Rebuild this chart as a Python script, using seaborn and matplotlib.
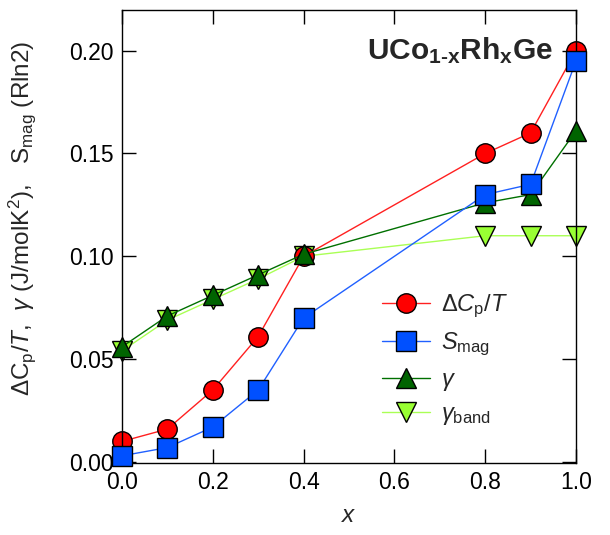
import matplotlib
matplotlib.use("Agg")
import matplotlib.pyplot as plt
import seaborn as sns
import pandas as pd

x = [0.0, 0.1, 0.2, 0.3, 0.4, 0.8, 0.9, 1.0]
dcp_t = [0.010, 0.016, 0.035, 0.061, 0.100, 0.150, 0.160, 0.200]
s_mag = [0.003, 0.007, 0.017, 0.035, 0.070, 0.130, 0.135, 0.195]
gamma = [0.056, 0.071, 0.081, 0.091, 0.101, 0.126, 0.130, 0.161]
gamma_band = [0.054, 0.069, 0.079, 0.089, 0.100, 0.110, 0.110, 0.110]

sns.set_theme(style="ticks")
plt.rcParams['font.family'] = ['Liberation Sans', 'DejaVu Sans']
plt.rcParams['mathtext.fontset'] = 'custom'
plt.rcParams['mathtext.rm'] = 'Liberation Sans'
plt.rcParams['mathtext.it'] = 'Liberation Sans:italic'
plt.rcParams['mathtext.bf'] = 'Liberation Sans:bold'

fig = plt.figure(figsize=(6.1, 5.35), dpi=100)
ax = fig.add_axes([122/610, 1-463/535, (576-122)/610, (463-9.5)/535])

df = pd.DataFrame({'x': x, 'dcp': dcp_t, 'smag': s_mag, 'g': gamma, 'gb': gamma_band})

series = [
    ('gb', r'$\mathit{\gamma}_\mathrm{band}$', 'v', '#aaff55', '#99ff33', 1),
    ('dcp', r'$\mathit{\Delta C}_\mathrm{p}/\mathit{T}$', 'o', '#ff2020', '#ff0000', 2),
    ('g', r'$\mathit{\gamma}$', '^', '#007000', '#006400', 3),
    ('smag', r'$\mathit{S}_\mathrm{mag}$', 's', '#2060ff', '#0050ff', 4),
]
for col, lab, mk, lc, fc, z in series:
    ms = 15 if mk in ('^', 'v') else 14
    sns.lineplot(data=df, x='x', y=col, ax=ax, color=lc, linewidth=1.0,
                 marker=mk, markersize=ms, markerfacecolor=fc,
                 markeredgecolor='black', markeredgewidth=1.0,
                 clip_on=False, zorder=z, label=lab, legend=False)

ax.set_xlim(0, 1.0)
ax.set_ylim(-0.0005, 0.22)
ax.set_xticks([0.0, 0.2, 0.4, 0.6, 0.8, 1.0])
ax.set_yticks([0.0, 0.05, 0.10, 0.15, 0.20])
ax.set_xticklabels(['0.0', '0.2', '0.4', '0.6', '0.8', '1.0'])
ax.set_yticklabels(['0.00', '0.05', '0.10', '0.15', '0.20'])
ax.tick_params(direction='in', length=10, width=1, top=True, right=True,
               labelsize=16.5, colors='black', pad=6)
for sp in ax.spines.values():
    sp.set_color('black')
    sp.set_linewidth(1.0)

ax.set_xlabel(r'$\mathit{x}$', fontsize=17.5, labelpad=8)
ax.set_ylabel(r'$\mathit{\Delta}$C$_\mathrm{p}$/$\mathit{T}$,  $\mathit{\gamma}$ (J/molK$^2$),   S$_\mathrm{mag}$ (Rln2)',
              fontsize=17.5)
ax.yaxis.set_label_coords(-0.185, 0.54)

ax.text(0.949, 0.91, r'$\mathbf{UCo}_{\mathbf{1‐x}}\mathbf{Rh}_{\mathbf{x}}\mathbf{Ge}$',
        transform=ax.transAxes, ha='right', va='center', fontsize=21.5)

h, l = ax.get_legend_handles_labels()
order = [1, 3, 2, 0]
leg = ax.legend([h[i] for i in order], [l[i] for i in order], loc='upper left',
                bbox_to_anchor=(0.532, 0.417), frameon=False, fontsize=17,
                handlelength=2.0, labelspacing=0.45, handletextpad=0.5,
                borderpad=0.3)

fig.savefig('out.png', dpi=100)
